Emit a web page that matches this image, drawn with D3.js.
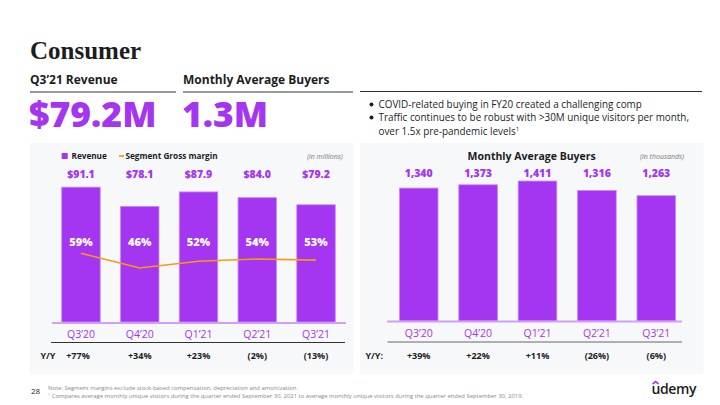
<!DOCTYPE html>
<html><head><meta charset="utf-8">
<script src="https://cdn.jsdelivr.net/npm/d3@7"></script>
<style>
html,body{margin:0;padding:0;background:#fff;}
svg{display:block;font-family:"Open Sans",sans-serif;}
</style></head>
<body>
<svg id="c" width="720" height="405"></svg>
<script>
const quarters = ["Q3\u201920","Q4\u201920","Q1\u201921","Q2\u201921","Q3\u201921"];
const revenue = [91.1, 78.1, 87.9, 84.0, 79.2];
const revenueLabels = ["$91.1","$78.1","$87.9","$84.0","$79.2"];
const grossMargin = [59, 46, 52, 54, 53];
const revenueYoY = ["+77%","+34%","+23%","(2%)","(13%)"];
const buyers = [1340, 1373, 1411, 1316, 1263];
const buyersLabels = ["1,340","1,373","1,411","1,316","1,263"];
const buyersYoY = ["+39%","+22%","+11%","(26%)","(6%)"];

const PURPLE = "#a435f0", ORANGE = "#f69c08", DARK = "#1c1d1f", BG = "#f7f8fa";
const svg = d3.select("#c");

// Header
svg.append("text").attr("x",30).attr("y",59).attr("font-family","'Liberation Serif',serif")
  .attr("font-weight",700).attr("font-size",25).attr("fill",DARK).text("Consumer");
svg.append("text").attr("x",30).attr("y",83.5).attr("font-weight",700).attr("font-size",12).attr("fill",DARK).text("Q3\u201921 Revenue");
svg.append("text").attr("x",183).attr("y",83.5).attr("font-weight",700).attr("font-size",12).attr("fill",DARK).text("Monthly Average Buyers");
svg.append("line").attr("x1",30).attr("x2",176).attr("y1",92).attr("y2",92).attr("stroke","#333").attr("stroke-width",1);
svg.append("line").attr("x1",183).attr("x2",353).attr("y1",92).attr("y2",92).attr("stroke","#333").attr("stroke-width",1);
svg.append("line").attr("x1",360).attr("x2",702).attr("y1",91.5).attr("y2",91.5).attr("stroke","#333").attr("stroke-width",1);
svg.append("text").attr("x",29).attr("y",126.5).attr("font-weight",800).attr("font-size",35.5).attr("fill",PURPLE).text("$79.2M");
svg.append("text").attr("x",182).attr("y",126.5).attr("font-weight",800).attr("font-size",35.5).attr("fill",PURPLE).text("1.3M");

const bullets = [
  {y:107.8, t:"COVID-related buying in FY20 created a challenging comp", b:true},
  {y:121, t:"Traffic continues to be robust with >30M unique visitors per month,", b:true},
  {y:134.6, t:"over 1.5x pre-pandemic levels", b:false}
];
bullets.forEach(d=>{
  if(d.b) svg.append("circle").attr("cx",371.5).attr("cy",d.y-3.4).attr("r",2).attr("fill",DARK);
  const t = svg.append("text").attr("x",378.5).attr("y",d.y).attr("font-size",9.9).attr("fill",DARK).text(d.t);
  if(!d.b) t.append("tspan").attr("font-size",6).attr("dy",-4).text("1");
});

// Panels
svg.append("rect").attr("x",30).attr("y",143).attr("width",323.5).attr("height",231).attr("fill",BG);
svg.append("rect").attr("x",360).attr("y",143).attr("width",343.5).attr("height",231).attr("fill",BG);

// ---- Left chart ----
const xL = d3.scaleBand().domain(quarters).range([51.6,345.4]).paddingInner(0.345).paddingOuter(0.1725);
const yL = d3.scaleLinear().domain([0,100]).range([322,174]);
const yM = d3.scaleLinear().domain([0,100]).range([320,207]);

const gL = svg.append("g");
gL.selectAll("rect.bar").data(revenue).join("rect").attr("class","bar")
  .attr("x",(d,i)=>xL(quarters[i])).attr("width",xL.bandwidth())
  .attr("y",d=>yL(d)).attr("height",d=>yL(0)-yL(d))
  .attr("fill",PURPLE).attr("stroke","#c58cf5").attr("stroke-width",0.8);

const axL = gL.append("g").attr("transform",`translate(0,${yL(0)+0.5})`)
  .call(d3.axisBottom(xL).tickSize(0).tickPadding(6));
axL.select(".domain").attr("stroke","#cfa0f7").attr("stroke-width",2);
axL.selectAll("text").attr("font-family","'Open Sans',sans-serif").attr("font-size",10.5).attr("fill",PURPLE).attr("dy","0.95em");

gL.selectAll("text.val").data(revenueLabels).join("text").attr("class","val")
  .attr("x",(d,i)=>xL(quarters[i])+xL.bandwidth()/2).attr("y",178)
  .attr("text-anchor","middle").attr("font-weight",800).attr("font-size",10.5).attr("fill",PURPLE).text(d=>d);
gL.selectAll("text.pct").data(grossMargin).join("text").attr("class","pct")
  .attr("x",(d,i)=>xL(quarters[i])+xL.bandwidth()/2).attr("y",246)
  .attr("text-anchor","middle").attr("font-weight",800).attr("font-size",11).attr("fill","#fff").text(d=>d+"%");

const line = d3.line().x((d,i)=>xL(quarters[i])+xL.bandwidth()/2).y(d=>yM(d));
gL.append("path").datum(grossMargin).attr("d",line).attr("fill","none").attr("stroke",ORANGE).attr("stroke-width",1.6);

// legend
gL.append("rect").attr("x",61.7).attr("y",153).attr("width",6).attr("height",6).attr("fill",PURPLE);
gL.append("text").attr("x",71.5).attr("y",159).attr("font-weight",700).attr("font-size",8.2).attr("fill",DARK).text("Revenue");
gL.append("line").attr("x1",119).attr("x2",124).attr("y1",156).attr("y2",156).attr("stroke",ORANGE).attr("stroke-width",1.8);
gL.append("text").attr("x",125.5).attr("y",159).attr("font-weight",700).attr("font-size",8.2).attr("fill",DARK).text("Segment Gross margin");
gL.append("text").attr("x",342.7).attr("y",158.5).attr("text-anchor","end").attr("font-style","italic").attr("font-size",7).attr("fill","#777").text("(in millions)");

gL.append("line").attr("x1",51).attr("x2",345).attr("y1",342.5).attr("y2",342.5).attr("stroke","#333").attr("stroke-width",1.2);
gL.append("text").attr("x",40.5).attr("y",358.5).attr("font-weight",700).attr("font-size",9).attr("fill",DARK).text("Y/Y");
gL.selectAll("text.yoy").data(revenueYoY).join("text").attr("class","yoy")
  .attr("x",(d,i)=>xL(quarters[i])+xL.bandwidth()/2 - (i===0?3:0)).attr("y",358.5)
  .attr("text-anchor","middle").attr("font-weight",700).attr("font-size",9).attr("fill",DARK).text(d=>d);

// ---- Right chart ----
const xR = d3.scaleBand().domain(quarters).range([389,686]).paddingInner(0.35).paddingOuter(0.175);
const yR = d3.scaleLinear().domain([0,1500]).range([321,172.2]);
const gR = svg.append("g");
gR.selectAll("rect.bar").data(buyers).join("rect").attr("class","bar")
  .attr("x",(d,i)=>xR(quarters[i])).attr("width",xR.bandwidth())
  .attr("y",d=>yR(d)).attr("height",d=>yR(0)-yR(d))
  .attr("fill",PURPLE).attr("stroke","#c58cf5").attr("stroke-width",0.8);
gR.append("line").attr("x1",387).attr("x2",682).attr("y1",yR(0)+0.5).attr("y2",yR(0)+0.5).attr("stroke","#cfa0f7").attr("stroke-width",2);
const axR = gR.append("g").attr("transform",`translate(0,${yR(0)+0.5})`)
  .call(d3.axisBottom(xR).tickSize(0).tickPadding(6));
axR.select(".domain").remove();
axR.selectAll("text").attr("font-family","'Open Sans',sans-serif").attr("font-size",10.5).attr("fill",PURPLE).attr("dy","0.95em");

gR.selectAll("text.val").data(buyersLabels).join("text").attr("class","val")
  .attr("x",(d,i)=>xR(quarters[i])+xR.bandwidth()/2).attr("y",177)
  .attr("text-anchor","middle").attr("font-weight",800).attr("font-size",10.5).attr("fill",PURPLE).text(d=>d);
gR.append("text").attr("x",531.7).attr("y",160).attr("text-anchor","middle").attr("font-weight",700).attr("font-size",10.5).attr("fill",DARK).text("Monthly Average Buyers");
gR.append("text").attr("x",684).attr("y",158.5).attr("text-anchor","end").attr("font-style","italic").attr("font-size",7).attr("fill","#777").text("(in thousands)");
gR.append("line").attr("x1",387.5).attr("x2",682).attr("y1",342).attr("y2",342).attr("stroke","#666").attr("stroke-width",1.2);
gR.append("text").attr("x",365.5).attr("y",358.5).attr("font-weight",700).attr("font-size",9).attr("fill",DARK).text("Y/Y:");
gR.selectAll("text.yoy").data(buyersYoY).join("text").attr("class","yoy")
  .attr("x",(d,i)=>xR(quarters[i])+xR.bandwidth()/2).attr("y",358.5)
  .attr("text-anchor","middle").attr("font-weight",700).attr("font-size",9).attr("fill",DARK).text(d=>d);

// Footer
svg.append("text").attr("x",31).attr("y",393.5).attr("font-size",8).attr("fill",DARK).text("28");
svg.append("text").attr("x",48).attr("y",390).attr("font-size",5.9).attr("fill","#888").text("Note: Segment margins exclude stock-based compensation, depreciation and amortization.");
const fn = svg.append("text").attr("x",48).attr("y",397.5).attr("font-size",5.9).attr("fill","#888");
fn.append("tspan").attr("font-size",3.8).attr("dy",-1.8).text("1");
fn.append("tspan").attr("dy",1.8).text(" Compares average monthly unique visitors during the quarter ended September 30, 2021 to average monthly unique visitors during the quarter ended September 30, 2019.");

// logo
svg.append("text").attr("x",651.5).attr("y",394).attr("font-weight",600).attr("font-size",14).attr("letter-spacing",-0.4).attr("fill",DARK).text("udemy");
svg.append("path").attr("d","M652.6,384.2 L655.6,381.6 L658.6,384.2").attr("fill","none").attr("stroke",PURPLE).attr("stroke-width",1.6);
</script>
</body></html>
